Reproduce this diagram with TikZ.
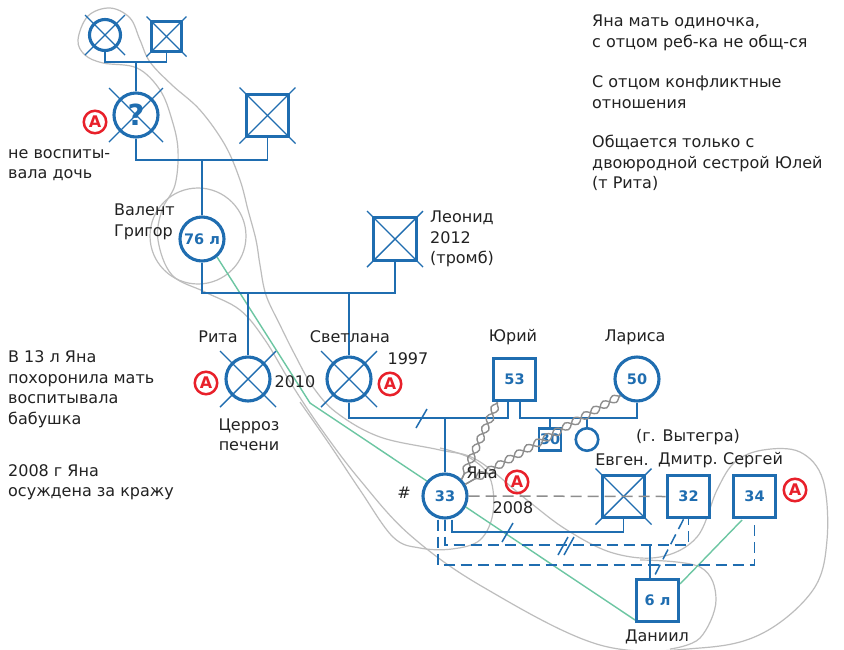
\documentclass[tikz,border=0pt]{standalone}
\usepackage{fontspec}
\setmainfont{DejaVu Sans}
\usetikzlibrary{decorations.pathmorphing}
\definecolor{gblue}{HTML}{1F6DB0}
\definecolor{ared}{HTML}{E8202A}
\definecolor{lgray}{HTML}{BDBDBD}
\definecolor{dgray}{HTML}{8E8E8E}
\definecolor{tgreen}{HTML}{6CC6A2}
\definecolor{txtc}{HTML}{222222}
\newcommand\xcross[2]{%
  \draw[crossl] ([shift={(-#2,-#2)}]#1.center) -- ([shift={(#2,#2)}]#1.center);
  \draw[crossl] ([shift={(-#2,#2)}]#1.center) -- ([shift={(#2,-#2)}]#1.center);}
\begin{document}
\begin{tikzpicture}[x=1pt,y=-1pt,
  fem/.style={circle, draw=gblue, line width=3.1pt, fill=white, minimum size=44pt, inner sep=0pt, text=gblue, font=\fontsize{14.5}{15}\selectfont\bfseries},
  mal/.style={rectangle, draw=gblue, line width=3.1pt, fill=white, minimum size=42.5pt, inner sep=0pt, text=gblue, font=\fontsize{14.5}{15}\selectfont\bfseries},
  conn/.style={draw=gblue, line width=1.9pt},
  dconn/.style={draw=gblue, line width=1.9pt, dash pattern=on 11pt off 6pt},
  crossl/.style={draw=gblue, line width=1.4pt},
  redA/.style={circle, draw=ared, line width=2.5pt, minimum size=22.5pt, inner sep=0pt, text=ared, font=\fontsize{16}{16}\selectfont\bfseries},
  lbl/.style={text=txtc, font=\fontsize{16}{20.5}\selectfont, inner sep=0pt},
  hh/.style={draw=lgray, line width=1.2pt},
  close/.style={draw=tgreen, line width=1.4pt},
  hostile/.style={draw=dgray, line width=1.4pt, decorate, decoration={snake, segment length=22pt, amplitude=3.8pt}},
]
\useasboundingbox (0,0) rectangle (844,649);
\fill[white] (0,0) rectangle (844,649);

% ---------- household curves ----------
\draw[hh] plot[smooth cycle, tension=0.6] coordinates {
 (78,40) (88,16) (110,8) (130,18) (140,40) (150,62) (172,85) (200,110) (225,145) (240,180) (248,210) (256,240) (260,265) (266,295) (280,325) (295,355) (313,387) (337,413) (380,437) (440,450) (477,460) (527,500) (567,530) (613,553) (660,557) (697,537) (717,490) (735,462) (763,450) (800,452) (823,480) (827,540) (813,590) (763,633) (700,648) (600,645) (483,587) (410,535) (360,480) (322,430) (292,385) (265,340) (240,310) (205,292) (172,275) (158,240) (162,210) (175,185) (178,150) (172,120) (160,90) (137,68) (103,63) (85,55)};
\node[circle, draw=lgray, line width=1.2pt, minimum size=96pt, inner sep=0pt] (vring) at (198,236) {};
\draw[hh] plot[smooth, tension=0.6] coordinates {
 (300,402) (330,445) (360,490) (393,537) (420,548) (452,549) (480,540) (493,513) (490,478) (470,458) (440,448)};
\draw[hh] plot[smooth, tension=0.6] coordinates {
 (640,560) (700,567) (716,600) (700,638) (670,649)};

% ---------- close relationships ----------
\coordinate (gbend) at (310,403);
\coordinate (vg) at (217,257);
\coordinate (dg) at (635,620);
\draw[close] (vg) -- (gbend) -- (dg);
\coordinate (sg) at (742,520);
\coordinate (dg2) at (680,584);
\draw[close] (sg) -- (dg2);

% ---------- nodes ----------
\node[fem, minimum size=31pt] (ggm) at (105,35) {};
\node[mal, minimum size=30pt] (ggf) at (166.5,36.5) {};
\node[fem, font=\fontsize{29}{29}\selectfont\bfseries] (gm) at (136,115) {?};
\node[mal] (gf) at (267.5,115.5) {};
\node[fem] (valent) at (202,239) {76 л};
\node[mal] (leonid) at (395,239) {};
\node[fem] (rita) at (248,379) {};
\node[fem] (svet) at (349,379) {};
\node[mal] (yuri) at (514.5,379.5) {53};
\node[fem] (larisa) at (637,379) {50};
\node[mal, minimum size=22pt, line width=2.6pt] (s30) at (550,439.5) {30};
\node[fem, minimum size=22.5pt, line width=2.6pt] (sis) at (587,439.5) {};
\node[fem] (yana) at (445,496) {33};
\node[mal] (evgen) at (623.5,496.5) {};
\node[mal] (dmitry) at (688.5,496.5) {32};
\node[mal] (sergey) at (754.5,496.5) {34};
\node[mal] (daniil) at (657.5,600.5) {6 л};

% ---------- crosses ----------
\xcross{ggm}{20}
\xcross{ggf}{20}
\xcross{gm}{27}
\xcross{gf}{28}
\xcross{leonid}{28}
\xcross{rita}{28}
\xcross{svet}{28}
\xcross{evgen}{28}

% ---------- connectors ----------
\coordinate (m0) at (136,62);
\draw[conn] (ggm.south) |- (m0) -| (ggf.south);
\draw[conn] (m0) -- (gm.north);
\coordinate (m1) at (202,160);
\draw[conn] (gm.south) |- (m1) -| (gf.south);
\draw[conn] (m1) -- (valent.north);
\coordinate (m2) at (248,293);
\coordinate (m3) at (349,293);
\draw[conn] (valent.south) |- (m2) -- (m3) -| (leonid.south);
\draw[conn] (m2) -- (rita.north);
\draw[conn] (m3) -- (svet.north);
\coordinate (yl) at (508,418);
\coordinate (yr) at (520,418);
\coordinate (m4) at (445,418);
\draw[conn] (svet.south) |- (m4) -- (yl) -- (yl|-yuri.south);
\draw[conn] (yr|-yuri.south) -- (yr) -| (larisa.south);
\draw[conn] (m4) -- (yana.north);
\coordinate (m5) at (550,418);
\coordinate (m6) at (587,418);
\draw[conn] (m5) -- (s30.north);
\draw[conn] (m6) -- (sis.north);
\coordinate (sl1) at (421,418);
\draw[conn, line width=1.5pt] ([shift={(-5,10)}]sl1) -- ([shift={(6,-9)}]sl1);

% Yana partners
\draw[draw=dgray, line width=1.5pt, dash pattern=on 11pt off 6pt] (yana.east) -- (dmitry.west);
\coordinate (e1) at (452,532);
\draw[conn] ([xshift=7pt]yana.south) -- (e1) -| (evgen.south);
\coordinate (sl2) at (507.5,532.5);
\draw[conn, line width=1.5pt] ([shift={(-5.5,9.5)}]sl2) -- ([shift={(5.5,-9.5)}]sl2);
\coordinate (d1) at (445,545);
\draw[dconn] (yana.south) -- (d1) -| (dmitry.south);
\coordinate (sl3) at (566,546);
\draw[conn, line width=1.5pt] ([shift={(-8,9)}]sl3) -- ([shift={(2,-9)}]sl3);
\draw[conn, line width=1.5pt] ([shift={(-2,9)}]sl3) -- ([shift={(8,-9)}]sl3);
\coordinate (s1) at (438,565);
\draw[dconn] ([xshift=-7pt]yana.south) -- (s1) -| (sergey.south);
\coordinate (dn) at (650,545);
\draw[conn, line width=1.5pt] (dn) -- (dn|-daniil.north);
\draw[dconn, line width=1.5pt] ([xshift=-5pt]dmitry.south) -- ([xshift=-4pt]daniil.north);

% hostile
\draw[hostile] ([xshift=-17pt]yuri.south) -- (yana.north east);
\draw[hostile, decoration={mirror}] ([xshift=-17pt]yuri.south) -- (yana.north east);
\draw[hostile] (larisa.225) -- (yana.30);
\draw[hostile, decoration={mirror}] (larisa.225) -- (yana.30);

% ---------- red A ----------
\node[redA] (a1) at (95,122) {A};
\node[redA] (a2) at (206,383) {A};
\node[redA] (a3) at (390,384) {A};
\node[redA] (a4) at (517,482) {A};
\node[redA] (a5) at (795,490) {A};

% ---------- labels ----------
\node[lbl, anchor=west, align=left] (t1) at (592,33) {Яна мать одиночка,\\с отцом реб-ка не общ-ся};
\node[lbl, anchor=west, align=left] (t2) at (592,92) {С отцом конфликтные\\отношения};
\node[lbl, anchor=west, align=left] (t3) at (592,163) {Общается только с\\двоюродной сестрой Юлей\\(т Рита)};
\node[lbl, anchor=west, align=left] (t4) at (8,389) {В 13 л Яна\\похоронила мать\\воспитывала\\бабушка};
\node[lbl, anchor=west, align=left] (t5) at (8,482) {2008 г Яна\\осуждена за кражу};
\node[lbl, anchor=west, align=left] (t6) at (8,165) {не воспиты-\\вала дочь};
\node[lbl, anchor=east, align=left] (t7) at (175,222) {Валент\\Григор};
\node[lbl, anchor=west, align=left] (t8) at (430,239) {Леонид\\2012\\(тромб)};
\node[lbl] (t9) at (218,337) {Рита};
\node[lbl] (t10) at (350,337) {Светлана};
\node[lbl] (t11) at (295,382) {2010};
\node[lbl] (t12) at (408,359) {1997};
\node[lbl, align=center] (t13) at (249,435) {Церроз\\печени};
\node[lbl] (t14) at (513,337) {Юрий};
\node[lbl] (t15) at (635,337) {Лариса};
\node[lbl] (t16) at (688,437) {(г. Вытегра)};
\node[lbl] (t17) at (622,460) {Евген.};
\node[lbl] (t18) at (688,460) {Дмитр.};
\node[lbl] (t19) at (753,460) {Сергей};
\node[lbl] (t20) at (482,473) {Яна};
\node[lbl] (t21) at (513,508) {2008};
\node[lbl] (t22) at (404,493) {\#};
\node[lbl] (t23) at (657,637) {Даниил};
\end{tikzpicture}
\end{document}
